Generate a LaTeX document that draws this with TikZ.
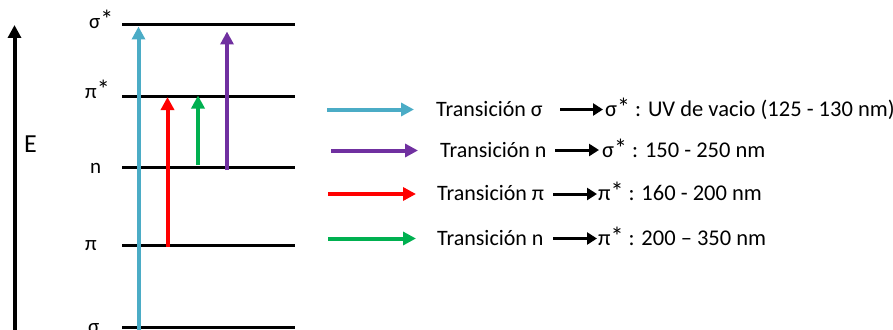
\documentclass[tikz,border=0pt]{standalone}
\usepackage{fontspec}
\setmainfont{Carlito}
\usetikzlibrary{arrows.meta}
\definecolor{trcyan}{HTML}{4BACC6}
\definecolor{trpurple}{HTML}{7030A0}
\definecolor{trred}{HTML}{FF0000}
\definecolor{trgreen}{HTML}{00B050}
% a slightly larger asterisk for the excited states
\newcommand{\exst}{{\fontsize{26}{26}\selectfont *}}
\begin{document}
\begin{tikzpicture}[x=1pt,y=-1pt,
  levelline/.style={line width=3pt},
  trans/.style={line width=4pt,-{Triangle[length=13pt,width=13pt]}},
  link/.style={line width=3pt,-{Triangle[length=10pt,width=12pt]}},
  lvlabel/.style={font=\fontsize{21}{21}\selectfont,inner sep=0pt,anchor=base west},
  legtext/.style={font=\fontsize{22.5}{22.5}\selectfont,inner sep=0pt,anchor=base west},
  legname/.style={legtext,font=\fontsize{22}{22}\selectfont}]
\useasboundingbox (0,0) rectangle (893,329);

% energy axis
\coordinate (ebot) at (14.5,340);
\coordinate (etop) at (14.5,25);
\draw[trans,black] (ebot) -- (etop);
\node[font=\fontsize{26}{26}\selectfont,inner sep=0pt,anchor=base west] (elabel) at (24,152) {E};

% energy levels
\foreach \name/\yy in {ss/25,ps/96,nn/167,pp/245,sg/327}{
  \coordinate (\name L) at (122,\yy);
  \coordinate (\name R) at (295,\yy);
  \draw[levelline] (\name L) -- (\name R);
}
\node[lvlabel] (lss) at (89,29) {σ\exst};
\node[lvlabel] (lps) at (85,98) {π\exst};
\node[lvlabel] (lnn) at (90,173) {n};
\node[lvlabel] (lpp) at (85,250) {π};
\node[lvlabel] (lsg) at (88,333) {σ};

% transitions
\coordinate (c0) at (138.5,340);  \coordinate (c1) at (138.5,26.5);
\coordinate (r0) at (167.5,246.5); \coordinate (r1) at (167.5,97);
\coordinate (g0) at (198,165);    \coordinate (g1) at (198,95.5);
\coordinate (v0) at (227,170);    \coordinate (v1) at (227,31.5);
\draw[trans,trcyan] (c0) -- (c1);
\draw[trans,trred] (r0) -- (r1);
\draw[trans,trgreen] (g0) -- (g1);
\draw[trans,trpurple] (v0) -- (v1);

% legend
\coordinate (k1a) at (327,109.5); \coordinate (k1b) at (414,109.5);
\coordinate (k2a) at (331,150.5); \coordinate (k2b) at (418,150.5);
\coordinate (k3a) at (328,194);   \coordinate (k3b) at (416,194);
\coordinate (k4a) at (328,238.5); \coordinate (k4b) at (416,238.5);
\draw[trans,trcyan] (k1a) -- (k1b);
\draw[trans,trpurple] (k2a) -- (k2b);
\draw[trans,trred] (k3a) -- (k3b);
\draw[trans,trgreen] (k4a) -- (k4b);

\node[legname] (t1a) at (436,116) {Transición σ};
\node[legtext] (t1b) at (605,116) {σ\exst{} : UV de vacio (125 - 130 nm)};
\node[legname] (t2a) at (440,157) {Transición n};
\node[legtext] (t2b) at (602,157) {σ\exst{} : 150 - 250 nm};
\node[legname] (t3a) at (437,200.5) {Transición π};
\node[legtext] (t3b) at (598,200.5) {π\exst{} : 160 - 200 nm};
\node[legname] (t4a) at (437,245) {Transición n};
\node[legtext] (t4b) at (598,245) {π\exst{} : 200 – 350 nm};

\coordinate (a1) at (560,109.5); \coordinate (b1) at (603,109.5);
\coordinate (a2) at (555,150);   \coordinate (b2) at (599,150);
\coordinate (a3) at (553,194);   \coordinate (b3) at (597,194);
\coordinate (a4) at (553,238.5); \coordinate (b4) at (597,238.5);
\foreach \i in {1,2,3,4}{\draw[link] (a\i) -- (b\i);}
\end{tikzpicture}
\end{document}
